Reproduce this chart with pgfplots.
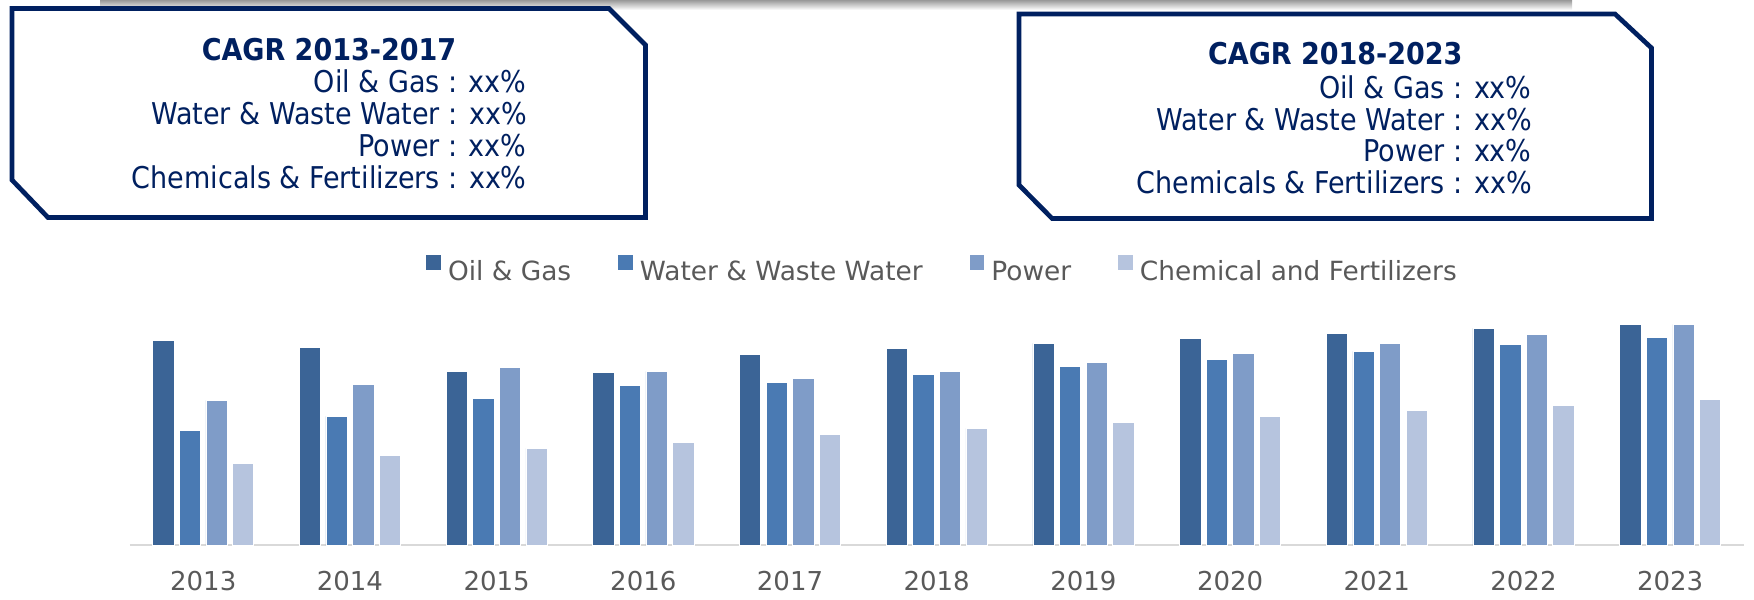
\documentclass[border=0pt]{standalone}
\usepackage{pgfplots}
\pgfplotsset{compat=1.18}
\usepackage{pgfplotstable}
\usepackage{fontspec}
\setmainfont{DejaVu Sans}
\newfontfamily\condfont{DejaVu Sans Condensed}
\definecolor{navy}{HTML}{002060}
\definecolor{txtgray}{HTML}{595959}
\definecolor{cOil}{HTML}{3B6496}
\definecolor{cWater}{HTML}{4A7AB3}
\definecolor{cPower}{HTML}{7F9CC8}
\definecolor{cChem}{HTML}{B6C4DE}
\definecolor{axgray}{HTML}{D9D9D9}

\pgfplotstableread{
x oil water power chem
0 205 115 145 82
1 198 129 161 90
2 174 147 178 97
3 173 160 174 103
4 191 163 167 111
5 197 171 174 117
6 202 179 183 123
7 207 186 192 129
8 212 194 202 135
9 217 201 211 140
10 221 208 221 146
}\data

\begin{document}
\begin{tikzpicture}
\begin{scope}[x=0.5pt,y=-0.5pt]
\useasboundingbox (0,0) rectangle (1754,599);
\shade[top color=black!40,bottom color=white] (100,0) rectangle (1572,10);
% left box
\draw[navy,line width=2.35pt,line join=miter,fill=white] (12,8.5) -- (609,8.5) -- (645.5,45) -- (645.5,217.5) -- (48,217.5) -- (12,180) -- cycle;
\begin{scope}[every node/.style={inner sep=0pt,text=navy,font=\condfont\fontsize{15}{18}\selectfont}]
\node[anchor=base,font=\condfont\fontsize{15}{18}\selectfont\bfseries] at (329,61) {CAGR 2013-2017};
\node[anchor=base east] at (527,92.7) {Oil \& Gas : xx\%};
\node[anchor=base east] at (527,125) {Water \& Waste Water : xx\%};
\node[anchor=base east] at (527,156.7) {Power : xx\%};
\node[anchor=base east] at (527,188.3) {Chemicals \& Fertilizers : xx\%};
\end{scope}
% right box
\draw[navy,line width=2.35pt,line join=miter,fill=white] (1019,14) -- (1615,14) -- (1651.5,48) -- (1651.5,218.4) -- (1052,218.4) -- (1019,185) -- cycle;
\begin{scope}[every node/.style={inner sep=0pt,text=navy,font=\condfont\fontsize{15}{18}\selectfont}]
\node[anchor=base,font=\condfont\fontsize{15}{18}\selectfont\bfseries] at (1335.3,65) {CAGR 2018-2023};
\node[anchor=base east] at (1532,98.3) {Oil \& Gas : xx\%};
\node[anchor=base east] at (1532,130) {Water \& Waste Water : xx\%};
\node[anchor=base east] at (1532,161.7) {Power : xx\%};
\node[anchor=base east] at (1532,193.3) {Chemicals \& Fertilizers : xx\%};
\end{scope}
\end{scope}
\begin{axis}[
  at={(64.95pt,-272.65pt)}, anchor=south west,
  scale only axis, width=806.8pt, height=120pt,
  xmin=-0.5, xmax=10.5, ymin=0, ymax=240,
  ybar=2.65pt, bar width=10.65pt,
  axis x line*=bottom, axis y line=none,
  x axis line style={draw=axgray, line width=1pt},
  xtick={0,...,10},
  xticklabels={2013,2014,2015,2016,2017,2018,2019,2020,2021,2022,2023},
  major tick length=0pt,
  xticklabel style={font=\fontsize{13}{15}\selectfont, text=txtgray, inner sep=0pt, yshift=-12.5pt},
  ytick=\empty,
  legend style={at={(axis description cs:0.503,1)}, anchor=center, yshift=17.9pt,
    draw=none, fill=none, inner sep=0pt, nodes={inner sep=0pt},
    font=\fontsize{13.2}{15}\selectfont, text=txtgray,
    /tikz/every odd column/.append style={column sep=3.65pt},
    /tikz/every even column/.append style={column sep=23.5pt}},
  legend columns=4, legend cell align=left,
  legend image code/.code={\path[#1,draw=none] (0pt,1.2pt) rectangle (7.2pt,8.4pt);},
]
\addplot[fill=cOil, draw=white, line width=0.3pt] table[x=x,y=oil] {\data};
\addplot[fill=cWater, draw=white, line width=0.3pt] table[x=x,y=water] {\data};
\addplot[fill=cPower, draw=white, line width=0.3pt] table[x=x,y=power] {\data};
\addplot[fill=cChem, draw=white, line width=0.3pt] table[x=x,y=chem] {\data};
\legend{Oil \& Gas, Water \& Waste Water, Power, Chemical and Fertilizers}
\end{axis}
\end{tikzpicture}
\end{document}
